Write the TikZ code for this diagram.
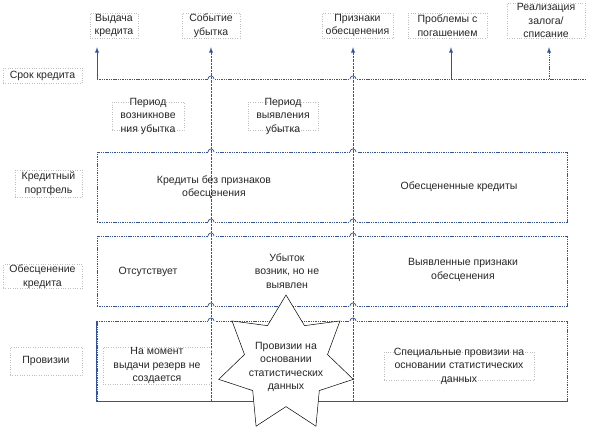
\documentclass[tikz,border=0pt]{standalone}
\usepackage{fontspec}
\setmainfont{Liberation Sans}
\usepackage{tikz}
\usetikzlibrary{
  shapes.geometric,%
  arrows,
  positioning,
  calc
}
\definecolor{lineblue}{RGB}{48,84,162}
\tikzset{>=latex}
\tikzset{font=\fontsize{10.5}{13.5}\selectfont}
\tikzset{
  labelbox/.style={draw=gray!50, dotted, align=center, inner sep=0pt, text=black!85},
  rowbox/.style={draw=lineblue, dash pattern=on 1.4pt off 0.9pt, line width=0.85pt, inner sep=0pt},
  rowtext/.style={align=center, text=black!85, inner sep=0pt},
  timeline/.style={draw=lineblue, dash pattern=on 1.4pt off 0.9pt, line width=0.85pt},
  eventarrow/.style={timeline, ->, shorten >=9pt},
  hop/.style={draw=lineblue, line width=0.7pt}
}

\begin{document}
\begin{tikzpicture}[x=1pt, y=-1pt]
  \useasboundingbox (0,0) rectangle (594,431);
  % events of the loan
  \node[labelbox, minimum width=48, minimum height=25] (issue) at (114,25.5) {Выдача\\кредита};
  \node[labelbox, minimum width=58, minimum height=25] (loss) at (211,25.5) {Событие\\убытка};
  \node[labelbox, minimum width=71, minimum height=25] (signs) at (357.5,25.5) {Признаки\\обесценения};
  \node[labelbox, minimum width=79, minimum height=25] (trouble) at (447.5,25.5) {Проблемы с\\погашением};
  \node[labelbox, minimum width=78, minimum height=35] (writeoff) at (546,20.5) {Реализация\\залога/\\списание};

  % row titles
  \node[labelbox, minimum width=79, minimum height=15] (term) at (42.5,75.5) {Срок кредита};
  \node[labelbox, minimum width=67, minimum height=27] (portfolioTitle) at (48.5,183.5) {Кредитный\\портфель};
  \node[labelbox, minimum width=79, minimum height=24] (impairTitle) at (42.5,276.5) {Обесценение\\кредита};
  \node[labelbox, minimum width=72, minimum height=28] (provTitle) at (46,361) {Провизии};

  % periods
  \node[labelbox, minimum width=72, inner ysep=-4pt] (arise) at (148,116) {Период\\возникнове\\ния убытка};
  \node[labelbox, minimum width=70, inner ysep=-4pt] (detect) at (283,116) {Период\\выявления\\убытка};

  % rows
  \node[rowbox, minimum width=470, minimum height=70] (portfolio) at (332,187) {};
  \node[rowbox, minimum width=470, minimum height=70] (impair) at (332,271) {};
  \node[rowbox, minimum width=470, minimum height=80] (prov) at (332,361) {};
  \draw[lineblue, line width=0.85pt] (prov.north west) -- (prov.south west) -- (prov.south east);

  % time axis
  \coordinate (t1) at (97,79);
  \coordinate (t2) at (211,79);
  \coordinate (t3) at (353,79);
  \coordinate (t4) at (451,79);
  \coordinate (t5) at (549,79);
  \coordinate (tend) at (585,79);
  \coordinate (b2) at (211,401);
  \coordinate (b3) at (353,401);
  \draw[timeline] (t1) -- (tend);

  % line hops
  \foreach \x in {211,353}
    \foreach \y in {79,152,222,236,306,321} {
      \fill[white] (\x-3.5,\y-1.2) rectangle (\x+3.5,\y+1.2);
      \draw[hop] (\x-3,\y) arc (180:360:3);
    }

  \draw[eventarrow, solid] (t1) -- (t1 |- issue.south);
  \draw[eventarrow, dash pattern=on 2.5pt off 1pt] (b2) -- (b2 |- loss.south);
  \draw[eventarrow, dash pattern=on 2.5pt off 1pt] (b3) -- (b3 |- signs.south);
  \draw[eventarrow, solid] (t4) -- (t4 |- trouble.south);
  \draw[eventarrow] (t5) -- (t5 |- writeoff.south);

  % texts in the rows
  \node[rowtext] (healthy) at (214,187) {Кредиты без признаков\\обесценения};
  \node[rowtext] (impaired) at (459,187) {Обесцененные кредиты};
  \node[rowtext] (none) at (148,272) {Отсутствует};
  \node[rowtext] (hidden) at (287,271) {Убыток\\возник, но не\\выявлен};
  \node[rowtext] (found) at (463,270) {Выявленные признаки\\обесценения};
  \node[labelbox, minimum width=108, minimum height=37] (noReserve) at (157,365.5) {На момент\\выдачи резерв не\\создается};
  \node[labelbox, minimum width=150, inner ysep=-4pt] (special) at (459,366) {Специальные провизии на\\основании статистических\\данных};

  % star
  \node[star, star points=7, star point ratio=1.62, minimum size=138, draw=black, fill=white, inner sep=0pt, line width=0.5pt] (stat) at (286,364) {};
  \node[rowtext] (statText) at ([yshift=-3pt]stat.center) {Провизии на\\основании\\статистических\\данных};
\end{tikzpicture}
\end{document}
